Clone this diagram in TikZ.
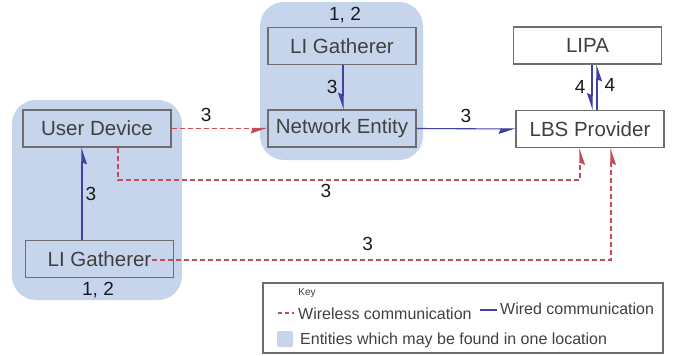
\documentclass[tikz,border=0pt]{standalone}
\usepackage{fontspec}
\setmainfont{Liberation Sans}
\usetikzlibrary{arrows.meta}
\definecolor{blob}{RGB}{198,213,236}
\definecolor{boxline}{RGB}{110,110,110}
\definecolor{boxtext}{RGB}{64,64,64}
\definecolor{wl}{RGB}{196,78,88}
\definecolor{wd}{RGB}{64,64,160}
\tikzset{
  blobrect/.style={fill=blob, rounded corners=24pt, draw=none},
  entbox/.style={draw=boxline, line width=1.4pt, minimum width=148pt, minimum height=37pt, inner sep=0pt,
     text=boxtext, font=\fontsize{20.5}{24}\selectfont},
  whitebox/.style={entbox, fill=white},
  lbl/.style={text=black!90, font=\fontsize{19}{22}\selectfont, inner sep=0pt},
  tipw/.style={-{Stealth[harpoon,swap,length=15pt,width=10pt,inset=2pt]}},
  wireless/.style={draw=wl, line width=1.1pt, dash pattern=on 5pt off 3pt},
  wired/.style={draw=wd, line width=1.1pt},
  keytext/.style={text=boxtext, font=\fontsize{16}{19}\selectfont, anchor=west, inner sep=0pt},
}
\begin{document}
\begin{tikzpicture}[x=1pt,y=-1pt]
\useasboundingbox (0,0) rectangle (680,356);
% blobs
\fill[blobrect] (12,100) rectangle (182,300);
\fill[blobrect] (260,2) rectangle (423,160);
% boxes
\node[entbox] (ud) at (97,128.5) {User Device};
\node[entbox] (lig) at (99.5,259) {LI Gatherer};
\node[entbox] (lgt) at (342,46) {LI Gatherer};
\node[entbox] (ne) at (342,128.5) {Network Entity};
\node[whitebox] (lipa) at (587.5,45.5) {LIPA};
\node[whitebox] (lbs) at (590,129) {LBS Provider};
% numbers
\node[lbl] (n12a) at (98,290) {1, 2};
\node[lbl] (n12b) at (345,15) {1, 2};
% wired arrows
\draw[wired,tipw] (lig.north -| 82,0) -- (ud.south -| 82,0) node[lbl, midway, right=3pt] {3};
\draw[wired,tipw] (lgt.south -| 343,0) -- (ne.north -| 343,0) node[lbl, midway, left=5pt] {3};
\draw[wired,tipw] (ne.east) -- (lbs.west) node[lbl, midway, above=6pt] {3};
\draw[wired,tipw] (lipa.south -| 592,0) -- (lbs.north -| 592,0) node[lbl, midway, left=6pt] {4};
\draw[wired,tipw] (lbs.north -| 597,0) -- (lipa.south -| 597,0) node[lbl, midway, right=7pt, yshift=2pt] {4};
% wireless arrows
\draw[wireless,tipw] (ud.east) -- (ne.west) node[lbl, pos=0.36, above=6pt] {3};
\coordinate (c1) at (118,180);
\coordinate (c2) at (580,180);
\draw[wireless,tipw] (ud.south -| c1) -- (c1) -- (c2) node[lbl, pos=0.45, below=4pt] {3} -- (lbs.south -| c2);
\coordinate (c3) at (152,260);
\coordinate (c4) at (611,260);
\draw[wireless,tipw] (c3) -- (c4) node[lbl, pos=0.47, above=9pt] {3} -- (lbs.south -| c4);
% key
\node[draw=boxline, line width=1.2pt, minimum width=400pt, minimum height=70pt, inner sep=0pt] (key) at (463,318) {};
\node[text=boxtext, font=\fontsize{10}{12}\selectfont, inner sep=0pt] (keyt) at (307,293) {Key};
\coordinate (k1) at (278,313);
\coordinate (k2) at (294,313);
\draw[wireless, dash pattern=on 4pt off 3pt] (k1) -- (k2);
\node[keytext] (kwl) at (298,314) {Wireless communication};
\coordinate (k3) at (480,310);
\coordinate (k4) at (497,310);
\draw[wired] (k3) -- (k4);
\node[keytext] (kwd) at (500,309) {Wired communication};
\fill[blob, rounded corners=2pt] (277,331) rectangle (293,347);
\node[keytext] (kbl) at (300,340) {Entities which may be found in one location};
\end{tikzpicture}
\end{document}
